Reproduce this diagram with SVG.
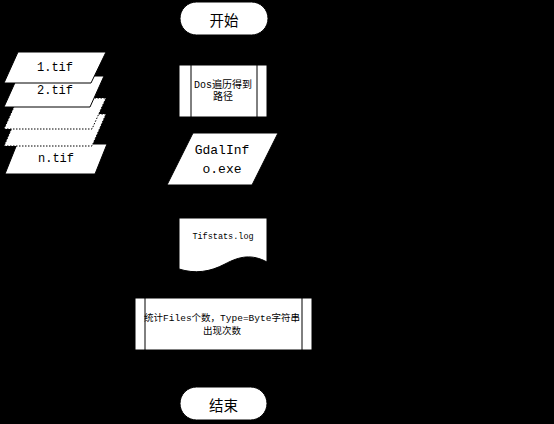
<svg xmlns="http://www.w3.org/2000/svg" width="554" height="424" viewBox="0 0 554 424">
<style>
.shape{fill:#fff;stroke:#000;stroke-width:1}
.dot{fill:#fff;stroke:#000;stroke-width:1;stroke-dasharray:1.5 1.5}
.inner{stroke:#000;stroke-width:1;fill:none}
.t{font-family:"Liberation Mono","Noto Sans CJK SC",monospace;fill:#000;text-anchor:middle;dominant-baseline:central}
.cjk{font-family:"Noto Sans CJK SC",sans-serif;fill:#000;text-anchor:middle;dominant-baseline:central}
.conn{stroke:#000;stroke-width:1;fill:none;marker-end:url(#arr)}
</style>
<defs>
<marker id="arr" markerWidth="8" markerHeight="8" refX="7" refY="4" orient="auto" markerUnits="userSpaceOnUse">
<path d="M0,0 L8,4 L0,8 Z" fill="#000"/>
</marker>
</defs>
<rect x="0" y="0" width="554" height="424" fill="#000"/>
<g id="connectors">
<path class="conn" d="M224,35 V64"/>
<path class="conn" d="M223,117 V132"/>
<path class="conn" d="M104,112 H180"/>
<path class="conn" d="M222,185 V217"/>
<path class="conn" d="M223,270 V297"/>
<path class="conn" d="M223,350 V386"/>
</g>
<g id="files">
<g id="file-n">
<path class="shape" d="M5,174 L95,174 L107,144 L17,144 Z"/>
<text class="t" x="56" y="159" font-size="12">n.tif</text>
</g>
<g id="file-4">
<path class="dot" d="M4,146 L92,146 L106,114 L18,114 Z"/>
</g>
<g id="file-3">
<path class="dot" d="M4,129 L92,129 L106,98 L18,98 Z"/>
</g>
<g id="file-2">
<path class="shape" d="M4,107 L90,107 L104,76 L18,76 Z"/>
<text class="t" x="55" y="91" font-size="12">2.tif</text>
</g>
<g id="file-1">
<path class="shape" d="M4,83 L91,83 L106,52 L18,52 Z"/>
<text class="t" x="55" y="68" font-size="12">1.tif</text>
</g>
</g>
<g id="start">
<rect class="shape" x="180" y="2" width="88" height="33" rx="16.5"/>
<text class="cjk" x="224" y="19" font-size="14.5">开始</text>
</g>
<g id="dos">
<rect class="shape" x="179" y="65" width="88" height="52"/>
<line class="inner" x1="191" y1="65" x2="191" y2="117"/>
<line class="inner" x1="257" y1="65" x2="257" y2="117"/>
<text class="t" x="223" y="85" font-size="10">Dos遍历得到</text>
<text class="t" x="223" y="97" font-size="10">路径</text>
</g>
<g id="gdalinfo">
<path class="shape" d="M167,185 L252,185 L278,133 L193,133 Z"/>
<text class="t" x="222" y="150" font-size="13">GdalInf</text>
<text class="t" x="222" y="169" font-size="13">o.exe</text>
</g>
<g id="tifstats">
<path class="shape" d="M179,218 H267 V262 C252,254 240,256 225,264 C210,272 195,274 179,269 Z"/>
<text class="t" x="223" y="237" font-size="8.5">Tifstats.log</text>
</g>
<g id="stats">
<rect class="shape" x="135" y="298" width="177" height="52"/>
<line class="inner" x1="145" y1="298" x2="145" y2="350"/>
<line class="inner" x1="302" y1="298" x2="302" y2="350"/>
<text class="t" x="222" y="318" font-size="9.5">统计Files个数，Type=Byte字符串</text>
<text class="t" x="222" y="331" font-size="9.5">出现次数</text>
</g>
<g id="end">
<rect class="shape" x="180" y="387" width="87" height="33" rx="16.5"/>
<text class="cjk" x="223.5" y="404" font-size="14.5">结束</text>
</g>
</svg>
